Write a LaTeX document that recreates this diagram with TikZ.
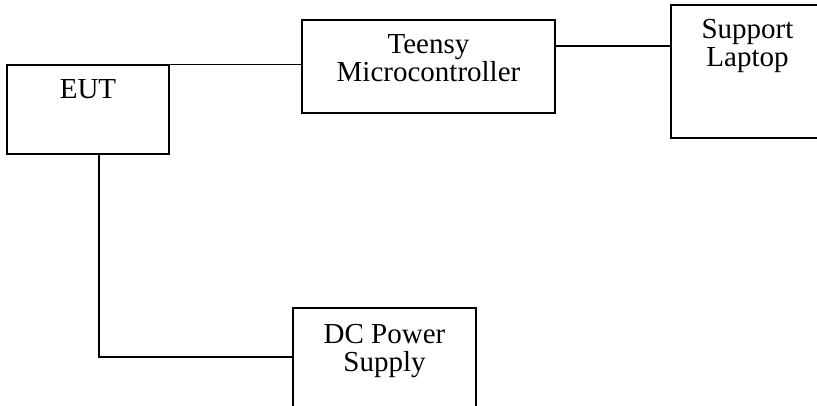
\documentclass[tikz,border=0pt]{standalone}
\usepackage{fontspec}
\setmainfont{Liberation Serif}
\begin{document}
\begin{tikzpicture}[x=1pt,y=-1pt,
  box/.style={draw, line width=1.1pt, rectangle, inner sep=0pt},
  lbl/.style={anchor=north, inner sep=0pt, align=center, label distance=0pt,
    font=\fontsize{29}{27.5}\selectfont, yshift=-15pt},
  wire/.style={line width=1.1pt}]
\useasboundingbox (0,0) rectangle (817,406);
\clip (0,0) rectangle (817,406);
\fill[white] (0,0) rectangle (817,406);
\node[box, minimum width=162pt, minimum height=89pt,
  label={[lbl]north:EUT}] (eut) at (88,109.5) {};
\node[box, minimum width=253pt, minimum height=93pt,
  label={[lbl]north:Teensy\\Microcontroller}] (teensy) at (428.5,66.5) {};
\node[box, minimum width=153pt, minimum height=133pt,
  label={[lbl]north:Support\\Laptop}] (laptop) at (747.5,71.5) {};
\node[box, minimum width=183pt, minimum height=120pt,
  label={[lbl, yshift=-2pt]north:DC Power\\Supply}] (dc) at (384.5,368) {};
\draw[wire] ([xshift=-10pt]eut.north east) -- (eut.north east -| teensy.west);
\draw[wire] ([yshift=20.5pt]teensy.east) -- ([yshift=20.5pt]teensy.east -| laptop.west);
\draw[wire] ([xshift=11pt]eut.south) |- ([yshift=11pt]dc.west);
\end{tikzpicture}
\end{document}
